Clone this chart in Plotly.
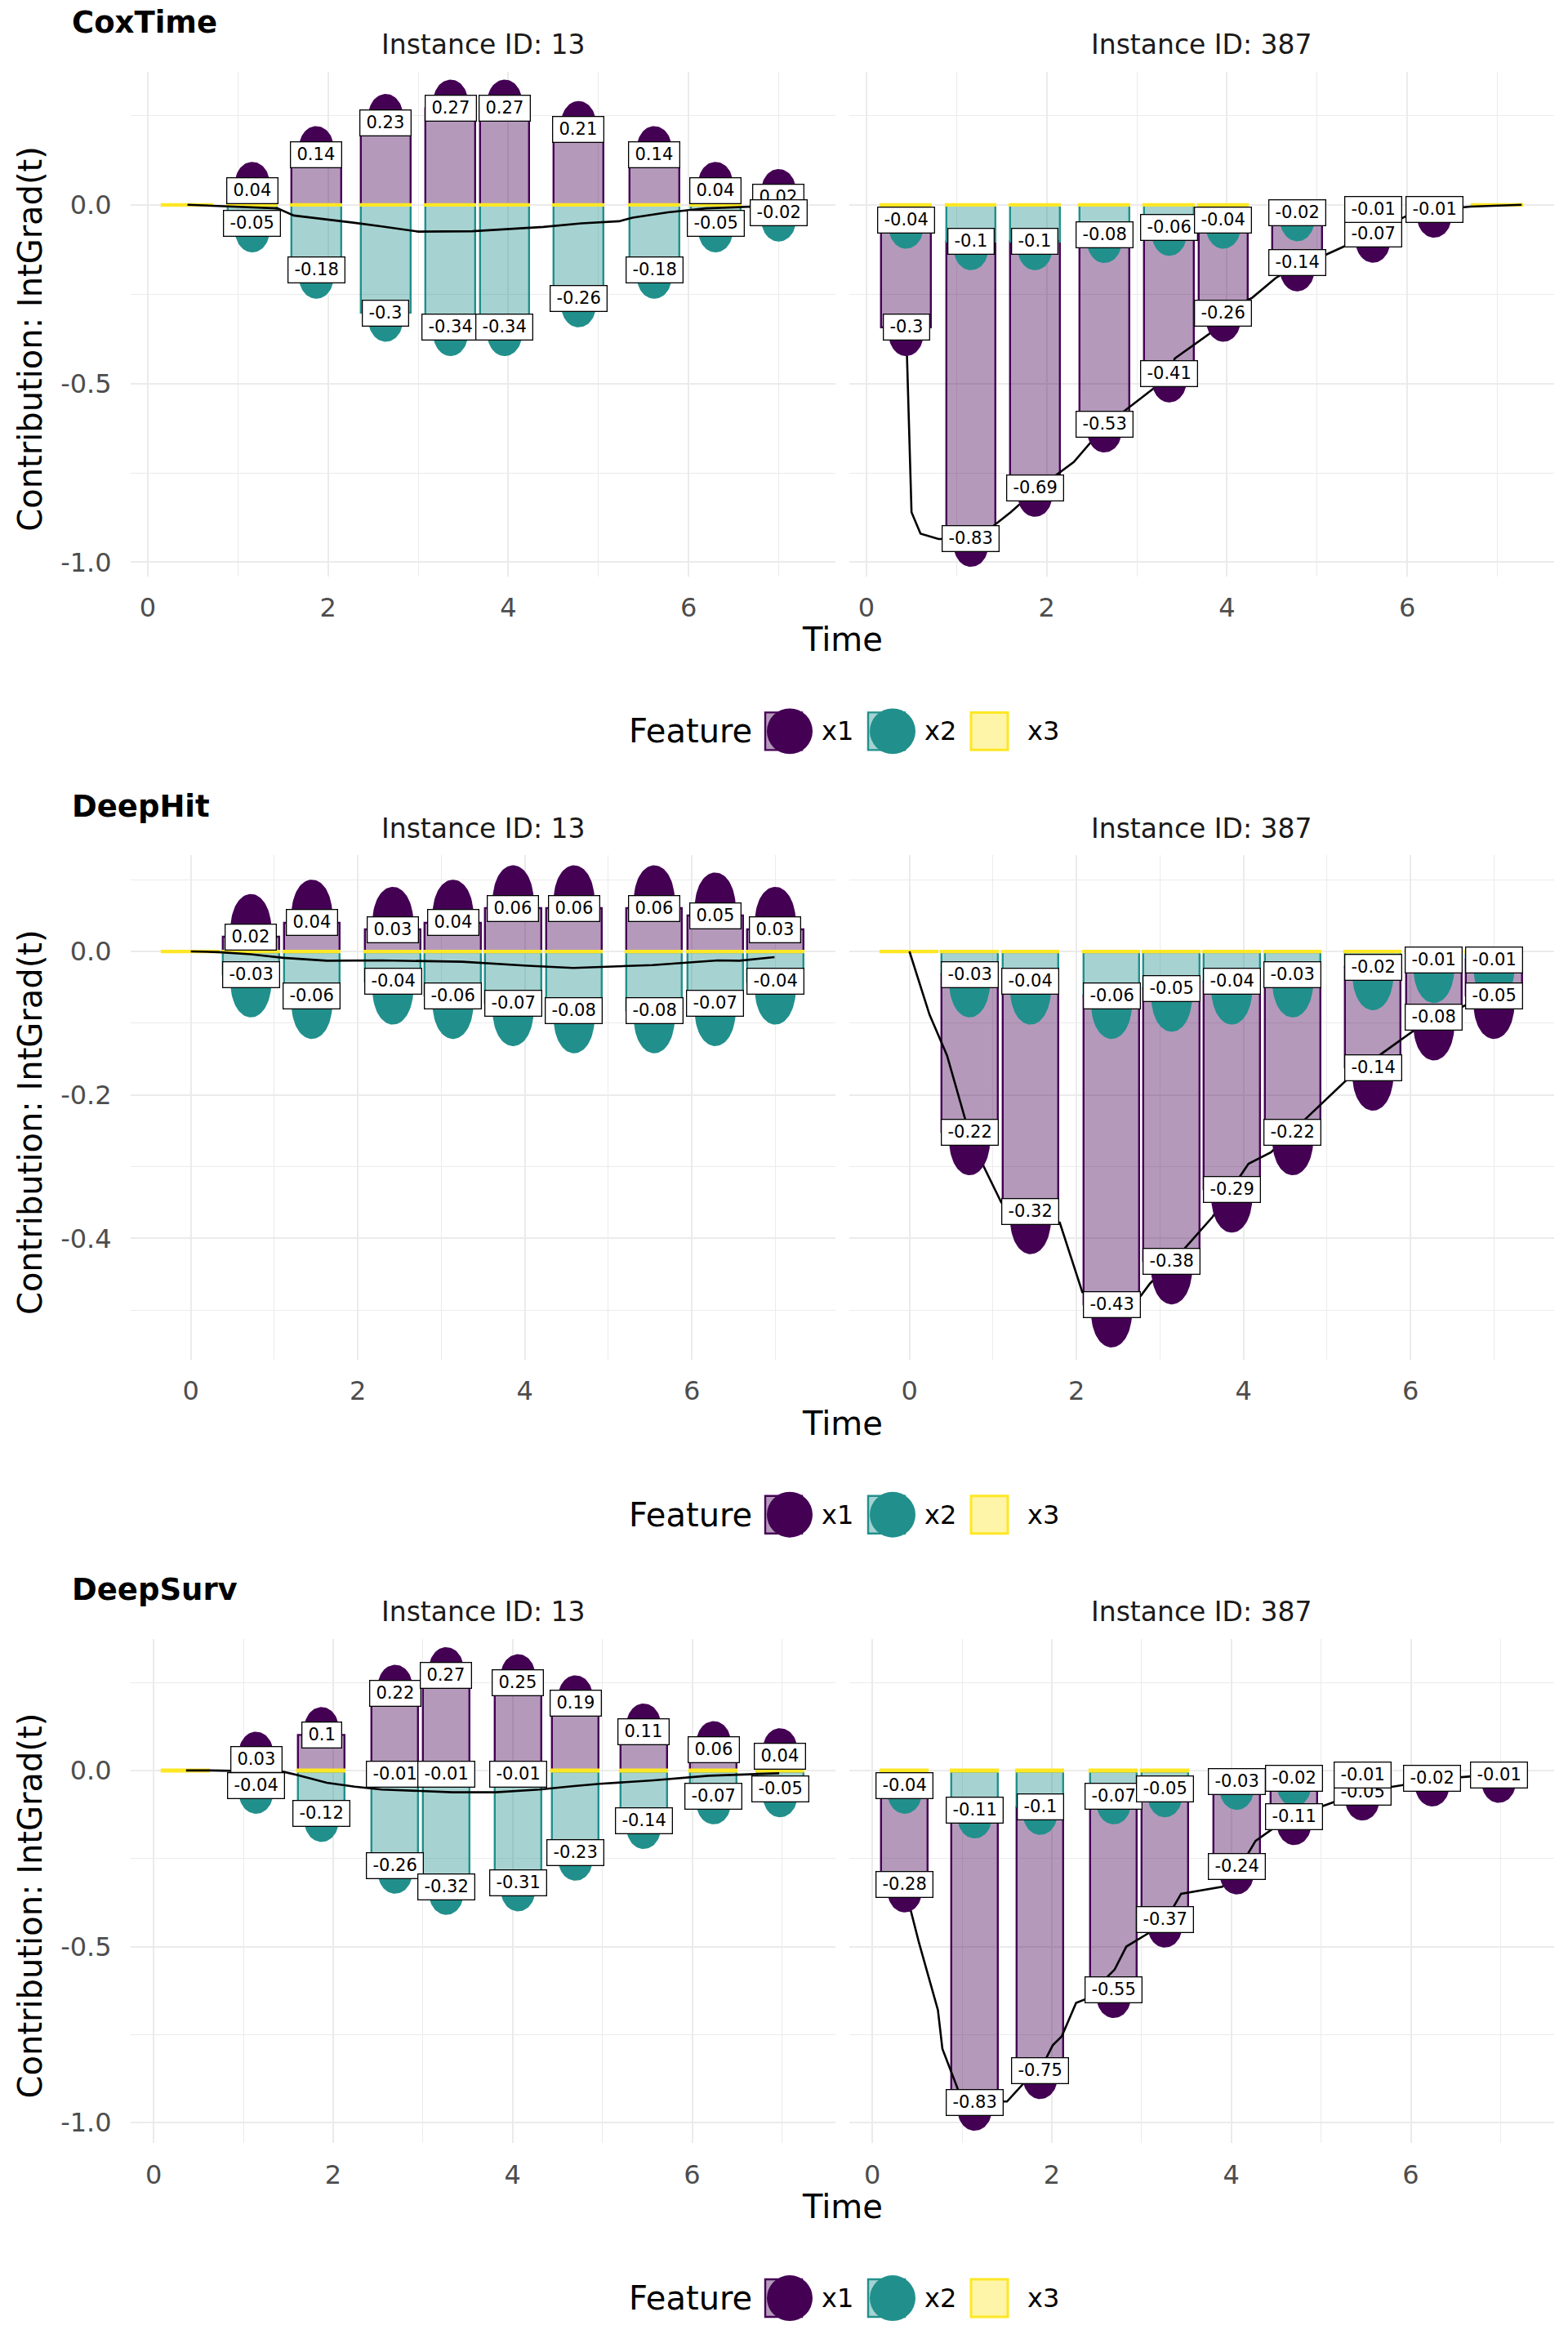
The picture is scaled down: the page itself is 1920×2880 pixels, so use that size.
import numpy as np
import plotly.graph_objects as go

# ------------------------------------------------------------------ data
models = ["CoxTime", "DeepHit", "DeepSurv"]
instance_ids = ["13", "387"]
features = ["x1", "x2", "x3"]

# time points of the bars
coxtime_time = [0.44, 1.16, 1.87, 2.64, 3.36, 3.96, 4.78, 5.62, 6.30, 7.00]
deephit_time = [0.00, 0.72, 1.45, 2.42, 3.14, 3.86, 4.59, 5.55, 6.28, 7.00]
deepsurv_time = [0.36, 1.14, 1.87, 2.69, 3.26, 4.06, 4.70, 5.46, 6.24, 6.98]

# CoxTime
coxtime_13_x1 = [0.00, 0.04, 0.14, 0.23, 0.27, 0.27, 0.21, 0.14, 0.04, 0.02]
coxtime_13_x2 = [0.00, -0.05, -0.18, -0.30, -0.34, -0.34, -0.26, -0.18, -0.05, -0.02]
coxtime_13_x3 = [-0.003, -0.003, -0.003, -0.003, -0.003, -0.003, -0.003, -0.003, -0.003, -0.003]
coxtime_387_x1 = [-0.30, -0.83, -0.69, -0.53, -0.41, -0.26, -0.14, -0.07, -0.01, 0.00]
coxtime_387_x2 = [-0.04, -0.10, -0.10, -0.08, -0.06, -0.04, -0.02, -0.01, 0.00, 0.00]
coxtime_387_x3 = [-0.003, -0.003, -0.003, -0.003, -0.003, -0.003, -0.002, -0.002, -0.002, -0.002]

# DeepHit
deephit_13_x1 = [0.00, 0.02, 0.04, 0.03, 0.04, 0.06, 0.06, 0.06, 0.05, 0.03]
deephit_13_x2 = [0.00, -0.03, -0.06, -0.04, -0.06, -0.07, -0.08, -0.08, -0.07, -0.04]
deephit_13_x3 = [-0.002, -0.002, -0.002, -0.002, -0.002, -0.002, -0.002, -0.002, -0.002, -0.002]
deephit_387_x1 = [0.00, -0.22, -0.32, -0.43, -0.38, -0.29, -0.22, -0.14, -0.08, -0.05]
deephit_387_x2 = [0.00, -0.03, -0.04, -0.06, -0.05, -0.04, -0.03, -0.02, -0.01, -0.01]
deephit_387_x3 = [-0.002, -0.002, -0.002, -0.002, -0.002, -0.002, -0.002, -0.002, -0.002, -0.002]

# DeepSurv
deepsurv_13_x1 = [0.00, 0.03, 0.10, 0.22, 0.27, 0.25, 0.19, 0.11, 0.06, 0.04]
deepsurv_13_x2 = [0.00, -0.04, -0.12, -0.26, -0.32, -0.31, -0.23, -0.14, -0.07, -0.05]
deepsurv_13_x3 = [-0.003, -0.003, -0.003, -0.01, -0.01, -0.01, -0.003, -0.003, -0.003, -0.003]
deepsurv_387_x1 = [-0.28, -0.83, -0.75, -0.55, -0.37, -0.24, -0.11, -0.05, -0.02, -0.01]
deepsurv_387_x2 = [-0.04, -0.11, -0.10, -0.07, -0.05, -0.03, -0.02, -0.01, 0.00, 0.00]
deepsurv_387_x3 = [-0.003, -0.003, -0.003, -0.003, -0.003, -0.002, -0.002, -0.002, -0.002, -0.002]

# total contribution curves (black line)
coxtime_13_line_t = [0.44, 0.72, 1.16, 1.44, 1.62, 1.98, 2.28, 2.58, 3.00, 3.60, 4.00, 4.39, 4.81, 5.23, 5.38, 5.77, 6.19, 6.61, 7.27]
coxtime_13_line_v = [0.0, -0.003, -0.006, -0.01, -0.03, -0.04, -0.05, -0.06, -0.075, -0.074, -0.068, -0.062, -0.052, -0.046, -0.036, -0.021, -0.01, -0.006, 0.0]
coxtime_387_line_t = [0.44, 0.47, 0.50, 0.60, 0.80, 1.16, 1.40, 1.60, 1.87, 2.30, 2.64, 3.00, 3.36, 3.42, 3.81, 3.96, 4.28, 4.54, 4.78, 5.06, 5.30, 5.62, 6.00, 6.30, 6.70, 7.27]
coxtime_387_line_v = [-0.34, -0.60, -0.86, -0.92, -0.935, -0.935, -0.90, -0.86, -0.80, -0.72, -0.62, -0.55, -0.48, -0.43, -0.36, -0.30, -0.26, -0.205, -0.17, -0.144, -0.116, -0.08, -0.03, -0.015, -0.005, 0.0]

deephit_13_line_t = [0.00, 0.33, 0.72, 1.11, 1.63, 2.28, 3.25, 4.03, 4.58, 5.53, 6.31, 6.57, 6.99]
deephit_13_line_v = [0.0, -0.001, -0.004, -0.009, -0.013, -0.0125, -0.0144, -0.02, -0.023, -0.019, -0.0125, -0.013, -0.008]
deephit_387_line_t = [0.00, 0.24, 0.45, 0.67, 0.89, 1.10, 1.45, 1.80, 2.07, 2.42, 2.77, 2.88, 3.25, 3.63, 4.06, 4.33, 4.73, 5.29, 5.72, 6.02, 6.64, 7.00]
deephit_387_line_v = [0.0, -0.088, -0.145, -0.235, -0.30, -0.35, -0.365, -0.378, -0.475, -0.485, -0.48, -0.463, -0.42, -0.37, -0.296, -0.28, -0.235, -0.173, -0.137, -0.112, -0.076, -0.06]

deepsurv_13_line_t = [0.36, 0.63, 1.45, 1.60, 1.93, 2.24, 2.54, 2.90, 3.33, 3.81, 4.30, 4.66, 4.97, 5.57, 6.18, 6.97]
deepsurv_13_line_v = [0.0, 0.0, -0.004, -0.013, -0.035, -0.046, -0.054, -0.058, -0.062, -0.062, -0.054, -0.045, -0.038, -0.028, -0.015, -0.008]
deepsurv_387_line_t = [0.36, 0.42, 0.52, 0.73, 0.78, 0.96, 1.14, 1.50, 1.68, 1.87, 2.01, 2.11, 2.27, 2.37, 2.70, 2.83, 3.09, 3.26, 3.44, 3.90, 4.06, 4.27, 4.47, 4.70, 5.14, 5.46, 5.90, 6.24, 6.62, 6.98]
deepsurv_387_line_v = [-0.32, -0.39, -0.49, -0.68, -0.79, -0.91, -0.94, -0.94, -0.89, -0.85, -0.78, -0.755, -0.66, -0.65, -0.565, -0.50, -0.46, -0.43, -0.35, -0.33, -0.29, -0.20, -0.164, -0.13, -0.09, -0.06, -0.042, -0.025, -0.018, -0.01]

# axis ticks
x_tickvals = [0, 2, 4, 6]
x_ticktext = ["0", "2", "4", "6"]
x_minor = [1, 3, 5, 7]
y_tickvals_wide = [-1.0, -0.5, 0.0]
y_ticktext_wide = ["-1.0", "-0.5", "0.0"]
y_minor_wide = [-0.75, -0.25, 0.25]
y_tickvals_deephit = [-0.4, -0.2, 0.0]
y_ticktext_deephit = ["-0.4", "-0.2", "0.0"]
y_minor_deephit = [-0.5, -0.3, -0.1, 0.1]

# ------------------------------------------------------------------ assembly
times = {"CoxTime": coxtime_time, "DeepHit": deephit_time, "DeepSurv": deepsurv_time}
values = {
    ("CoxTime", "13"): {"x1": coxtime_13_x1, "x2": coxtime_13_x2, "x3": coxtime_13_x3},
    ("CoxTime", "387"): {"x1": coxtime_387_x1, "x2": coxtime_387_x2, "x3": coxtime_387_x3},
    ("DeepHit", "13"): {"x1": deephit_13_x1, "x2": deephit_13_x2, "x3": deephit_13_x3},
    ("DeepHit", "387"): {"x1": deephit_387_x1, "x2": deephit_387_x2, "x3": deephit_387_x3},
    ("DeepSurv", "13"): {"x1": deepsurv_13_x1, "x2": deepsurv_13_x2, "x3": deepsurv_13_x3},
    ("DeepSurv", "387"): {"x1": deepsurv_387_x1, "x2": deepsurv_387_x2, "x3": deepsurv_387_x3},
}
lines = {
    ("CoxTime", "13"): (coxtime_13_line_t, coxtime_13_line_v),
    ("CoxTime", "387"): (coxtime_387_line_t, coxtime_387_line_v),
    ("DeepHit", "13"): (deephit_13_line_t, deephit_13_line_v),
    ("DeepHit", "387"): (deephit_387_line_t, deephit_387_line_v),
    ("DeepSurv", "13"): (deepsurv_13_line_t, deepsurv_13_line_v),
    ("DeepSurv", "387"): (deepsurv_387_line_t, deepsurv_387_line_v),
}

# styles / layout (not data)
FONT = "DejaVu Sans"
W, H = 1920, 2880
COL = {"x1": "#440154", "x2": "#21908C", "x3": "#FDE725"}
FILL = {"x1": "rgba(68,1,84,0.4)", "x2": "rgba(33,144,140,0.4)", "x3": "rgba(253,231,37,0.4)"}
style = {
    "CoxTime": dict(bar_w=0.55, blob_w=0.20, blob_h=0.08, xr=[-0.19, 7.63], yr=[-1.039, 0.372],
                    ytv=y_tickvals_wide, ytt=y_ticktext_wide, ymin=y_minor_wide),
    "DeepHit": dict(bar_w=0.67, blob_w=0.25, blob_h=0.06, xr=[-0.72, 7.72], yr=[-0.569, 0.134],
                    ytv=y_tickvals_deephit, ytt=y_ticktext_deephit, ymin=y_minor_deephit),
    "DeepSurv": dict(bar_w=0.52, blob_w=0.20, blob_h=0.08, xr=[-0.257, 7.597], yr=[-1.058, 0.374],
                     ytv=y_tickvals_wide, ytt=y_ticktext_wide, ymin=y_minor_wide),
}
PANEL_X = [(160, 1023), (1040, 1903)]
GROUP_H = 960
P_TOP, P_BOT = 88, 706


def PX(x):
    return x / W


def PY(y):
    return 1 - y / H


fig = go.Figure()
annotations = []
shapes = []
layout_axes = {}
stack_order = ["x3", "x2", "x1"]   # nearest to zero first
theta = np.linspace(0, np.pi, 48)
# slightly tapered cap profile
cap_x = np.cos(theta)
cap_y = np.sin(theta) ** 0.8

for gi, model in enumerate(models):
    g = gi * GROUP_H
    sp = style[model]
    t = times[model]
    for pi, inst in enumerate(instance_ids):
        k = gi * 2 + pi + 1
        xa = "x" if k == 1 else f"x{k}"
        ya = "y" if k == 1 else f"y{k}"
        vals = values[(model, inst)]

        # stacked segment starts / ends (positive and negative stacks separately)
        starts = {f: [] for f in features}
        ends = {f: [] for f in features}
        for i in range(len(t)):
            pos = neg = 0.0
            for f in stack_order:
                v = vals[f][i]
                if v >= 0:
                    starts[f].append(pos)
                    pos += v
                    ends[f].append(pos)
                else:
                    starts[f].append(neg)
                    neg += v
                    ends[f].append(neg)

        # bars, drawn x1, x2, x3 (x3 on top)
        for f in features:
            fig.add_trace(go.Bar(
                x=t, y=vals[f], base=starts[f], width=sp["bar_w"], xaxis=xa, yaxis=ya,
                marker=dict(color=FILL[f], line=dict(color=COL[f], width=3.2 if f == "x3" else 2.4)),
                showlegend=False, hoverinfo="skip"))

        lt, lv = lines[(model, inst)]
        fig.add_trace(go.Scatter(x=lt, y=lv, mode="lines", xaxis=xa, yaxis=ya,
                                 line=dict(color="black", width=2.6), showlegend=False,
                                 hoverinfo="skip"))

        # rounded caps at the end of x1 / x2 segments
        for f in ["x2", "x1"]:
            bx, by = [], []
            for i in range(len(t)):
                v = vals[f][i]
                if abs(v) < 0.005:
                    continue
                s = 1 if v > 0 else -1
                bx += list(t[i] + sp["blob_w"] * cap_x) + [None]
                by += list(ends[f][i] + s * sp["blob_h"] * cap_y) + [None]
            fig.add_trace(go.Scatter(x=bx, y=by, mode="lines", fill="toself", fillcolor=COL[f],
                                     line=dict(width=0, color=COL[f]), xaxis=xa, yaxis=ya,
                                     showlegend=False, hoverinfo="skip"))

        # value labels
        for f in features:
            for i in range(len(t)):
                v = vals[f][i]
                if abs(v) < 0.005:
                    continue
                annotations.append(dict(
                    x=t[i], y=ends[f][i], xref=xa, yref=ya, text=f"\u2009{v:g}\u2009",
                    showarrow=False, xanchor="center", yanchor="middle",
                    font=dict(family=FONT, size=21, color="black"),
                    bgcolor="white", bordercolor="black", borderwidth=1.3, borderpad=3))

        x0, x1 = PANEL_X[pi]
        layout_axes["xaxis" if k == 1 else f"xaxis{k}"] = dict(
            domain=[PX(x0), PX(x1)], range=sp["xr"], anchor=ya,
            tickmode="array", tickvals=x_tickvals, ticktext=x_ticktext,
            showgrid=True, gridcolor="#EBEBEB", gridwidth=2.4,
            minor=dict(tickmode="array", tickvals=x_minor, showgrid=True,
                       gridcolor="#EBEBEB", gridwidth=1.2),
            zeroline=False, showline=False, ticks="outside", ticklen=10,
            tickcolor="rgba(0,0,0,0)",
            tickfont=dict(family=FONT, size=32, color="#4D4D4D"), fixedrange=True)
        layout_axes["yaxis" if k == 1 else f"yaxis{k}"] = dict(
            domain=[PY(g + P_BOT), PY(g + P_TOP)], range=sp["yr"], anchor=xa,
            tickmode="array", tickvals=sp["ytv"], ticktext=sp["ytt"],
            showticklabels=(pi == 0),
            showgrid=True, gridcolor="#EBEBEB", gridwidth=2.4,
            minor=dict(tickmode="array", tickvals=sp["ymin"], showgrid=True,
                       gridcolor="#EBEBEB", gridwidth=1.2),
            zeroline=False, showline=False, ticks="outside" if pi == 0 else "",
            ticklen=16, tickcolor="rgba(0,0,0,0)",
            tickfont=dict(family=FONT, size=32, color="#4D4D4D"), fixedrange=True)

        # facet strip
        annotations.append(dict(
            x=PX((x0 + x1) / 2), y=PY(g + 55), xref="paper", yref="paper",
            text=f"Instance ID: {inst}", showarrow=False, xanchor="center", yanchor="middle",
            font=dict(family=FONT, size=33, color="#1A1A1A")))

    # model title
    annotations.append(dict(
        x=PX(86), y=PY(g + 28), xref="paper", yref="paper", text=f"<b>{model}</b>",
        showarrow=False, xanchor="left", yanchor="middle",
        font=dict(family=FONT, size=37, color="black")))
    # axis titles
    annotations.append(dict(
        x=PX(37), y=PY(g + 415), xref="paper", yref="paper", text="Contribution: IntGrad(t)",
        showarrow=False, xanchor="center", yanchor="middle", textangle=-90,
        font=dict(family=FONT, size=40, color="black")))
    annotations.append(dict(
        x=PX(1031), y=PY(g + 784), xref="paper", yref="paper", text="Time",
        showarrow=False, xanchor="center", yanchor="middle",
        font=dict(family=FONT, size=40, color="black")))

    # legend
    cy = g + 896
    annotations.append(dict(
        x=PX(768), y=PY(cy), xref="paper", yref="paper", text="Feature",
        showarrow=False, xanchor="left", yanchor="middle",
        font=dict(family=FONT, size=40, color="black")))
    legend_items = [("x1", 937, 967, 1004), ("x2", 1063, 1093, 1130), ("x3", 1189, None, 1256)]
    for f, rx0, ccx, tx in legend_items:
        shapes.append(dict(type="rect", xref="paper", yref="paper",
                           x0=PX(rx0), x1=PX(rx0 + 45), y0=PY(cy + 23), y1=PY(cy - 23),
                           fillcolor=FILL[f], line=dict(color=COL[f], width=3 if f == "x3" else 2.4)))
        if ccx is not None:
            shapes.append(dict(type="circle", xref="paper", yref="paper",
                               x0=PX(ccx - 28), x1=PX(ccx + 28), y0=PY(cy + 28), y1=PY(cy - 28),
                               fillcolor=COL[f], line=dict(width=0)))
        annotations.append(dict(
            x=PX(tx), y=PY(cy), xref="paper", yref="paper", text=f,
            showarrow=False, xanchor="left", yanchor="middle",
            font=dict(family=FONT, size=32, color="black")))

fig.update_layout(
    width=W, height=H, margin=dict(l=0, r=0, t=0, b=0),
    paper_bgcolor="white", plot_bgcolor="white",
    barmode="overlay", bargap=0, showlegend=False,
    font=dict(family=FONT, color="black"),
    annotations=annotations, shapes=shapes, **layout_axes)

fig.write_html("out.html")
